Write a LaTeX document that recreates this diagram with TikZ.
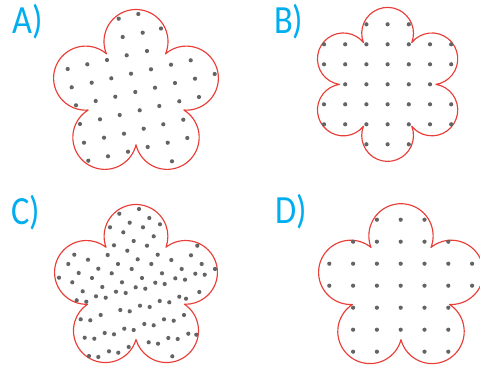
\documentclass[tikz,border=0pt]{standalone}
\usepackage{fontspec}
\setmainfont{Carlito}
\newfontfamily\lblfont[FakeStretch=0.86]{Carlito}
\definecolor{lblcyan}{RGB}{0,174,239}
\definecolor{petalred}{RGB}{232,62,56}
\definecolor{dotgray}{RGB}{100,100,100}
\newcommand{\drawflower}[6]{%
  \pgfmathsetmacro{\flB}{180/#3}%
  \pgfmathsetmacro{\flC}{#4*sin(\flB)}%
  \pgfmathsetmacro{\flM}{#4*cos(\flB)}%
  \pgfmathsetmacro{\flH}{#5-\flM}%
  \pgfmathsetmacro{\flR}{(\flH*\flH+\flC*\flC)/(2*\flH)}%
  \pgfmathsetmacro{\flD}{#5-\flR}%
  \pgfmathsetmacro{\flA}{atan2(\flC,\flM-\flD)}%
  \pgfmathtruncatemacro{\flN}{#3-1}%
  \draw[petal] (#1,#2) ++({#6-\flB}:#4)
    \foreach \k in {0,...,\flN}{ arc[start angle={#6+2*\flB*\k-\flA}, end angle={#6+2*\flB*\k+\flA}, radius=\flR] } -- cycle;
}
\begin{document}
\begin{tikzpicture}[x=1pt,y=1pt,yscale=-1,
  petal/.style={draw=petalred, line width=1.15pt, line join=round},
  lbl/.style={font=\lblfont\fontsize{40}{40}\selectfont, text=lblcyan, inner sep=0pt, anchor=base west},
  dotmark/.style={fill=dotgray}]
\useasboundingbox (0,0) rectangle (480,366);
\begin{scope}
\clip (0,0) rectangle (480,366);
% flowers
\drawflower{136}{94.5}{5}{50.3}{85}{-90}
\drawflower{387.6}{84.4}{6}{48.3}{77}{90}
\drawflower{136}{288.5}{5}{51}{84}{-90}
\drawflower{401}{288.7}{5}{51}{85}{-90}
% A dots
\foreach \x/\y in {138.3/14, 118.7/18.7, 161/28.5, 142.7/32.7, 122.7/37, 147/51, 126.7/55.3, 107/60, 190.7/60.3, 171/64.7, 87.3/64.3, 67.7/69, 151/69.3, 131/73.7, 214.7/74, 111.3/78.3, 195/78.7, 91.7/82.7, 175/83, 71.7/87.3, 155/87.7, 135.3/92, 115.3/96.7, 199/97, 95.7/101, 179.3/101.3, 76/105.3, 159.3/106, 139.7/110.3, 119.7/115, 100/119.3, 183.3/119.7, 80/124, 163.3/124.3, 143.7/128.7, 124/133.7, 104/137.7, 187.3/138, 84/142.7, 167.7/142.7, 147.7/147, 128/151.7, 108/156.3, 88.3/160.7, 172/161.3}
  \fill[dotmark] (\x,\y) circle[radius=2.1];
% B dots
\foreach \x in {366.4,387.6,408.8} {\fill[dotmark] (\x,24.3) circle[radius=2.1]; \fill[dotmark] (\x,144.3) circle[radius=2.1];}
\foreach \y in {44.3,64.3,104.3,124.3} {\foreach \x in {324,345.2,366.4,387.6,408.8,430,451.2} {\fill[dotmark] (\x,\y) circle[radius=2.1];}}
\foreach \x in {345.2,366.4,387.6,408.8,430} {\fill[dotmark] (\x,84.3) circle[radius=2.1];}
% C dots
\foreach \x/\y in {139/209, 119.3/213.7, 149.3/218, 129.7/222.7, 160/224.3, 110/227.3, 143/227.3, 123.3/232.3, 153.7/236.3, 133.7/241, 114/245.3, 197.3/245.7, 147/245.7, 127.3/250.7, 157.7/254.7, 107.7/255, 74.3/254.7, 191/255.3, 137.7/259.3, 88/259.7, 171.3/260, 68.3/264, 118/264, 151.3/264, 201.7/264, 98.3/268.7, 181.7/269, 131.7/269, 215/269, 78.7/273, 162/273.3, 195.3/273.7, 111.7/273.3, 204.7/274.7, 59/277.7, 92/278, 142/278, 175.3/278.3, 185/279.7, 72.3/282.3, 122/282.3, 155.3/282.7, 164.7/284, 102.3/287, 135.7/287.3, 145.3/288.7, 82.7/291.3, 116/291.7, 125.7/293, 199.3/292, 96/296.3, 105.7/297.7, 179.3/296.7, 186/298.7, 76.7/300.3, 86.3/301.7, 159.7/301, 169.3/302.3, 140/305.7, 149.7/307, 120.3/310, 129.7/311.3, 184/315, 100.7/315, 80.7/319.3, 90.3/320.3, 164/319.3, 173.7/320.7, 144.3/324, 153.7/325.3, 124.3/328.7, 133.7/330, 104.7/333, 114/334.3, 188.3/333.7, 196.3/334.7, 84.7/337.7, 94.3/338.7, 168.3/338, 177.7/339, 148.7/342.3, 158/343.7, 128.7/347, 109/351.3, 118.3/352.7, 89/356, 98.3/357, 172.3/356.3}
  \fill[dotmark] (\x,\y) circle[radius=2.1];
% D dots
\foreach \x in {376.9,400.7,424.5} {\fill[dotmark] (\x,219.7) circle[radius=2.1];}
\foreach \y in {241.7,307.7,329.7} {\foreach \x in {353.1,376.9,400.7,424.5,448.3} {\fill[dotmark] (\x,\y) circle[radius=2.1];}}
\foreach \y in {263.7,285.7} {\foreach \x in {329.3,353.1,376.9,400.7,424.5,448.3,472.1} {\fill[dotmark] (\x,\y) circle[radius=2.1];}}
\foreach \x in {353.1,376.9,424.5,448.3} {\fill[dotmark] (\x,351.7) circle[radius=2.1];}
\end{scope}
% labels
\node[lbl] (labA) at (12,33.5) {A)};
\node[lbl] (labB) at (274,33.5) {B)};
\node[lbl] (labC) at (11,225) {C)};
\node[lbl] (labD) at (275,224) {D)};
\end{tikzpicture}
\end{document}
